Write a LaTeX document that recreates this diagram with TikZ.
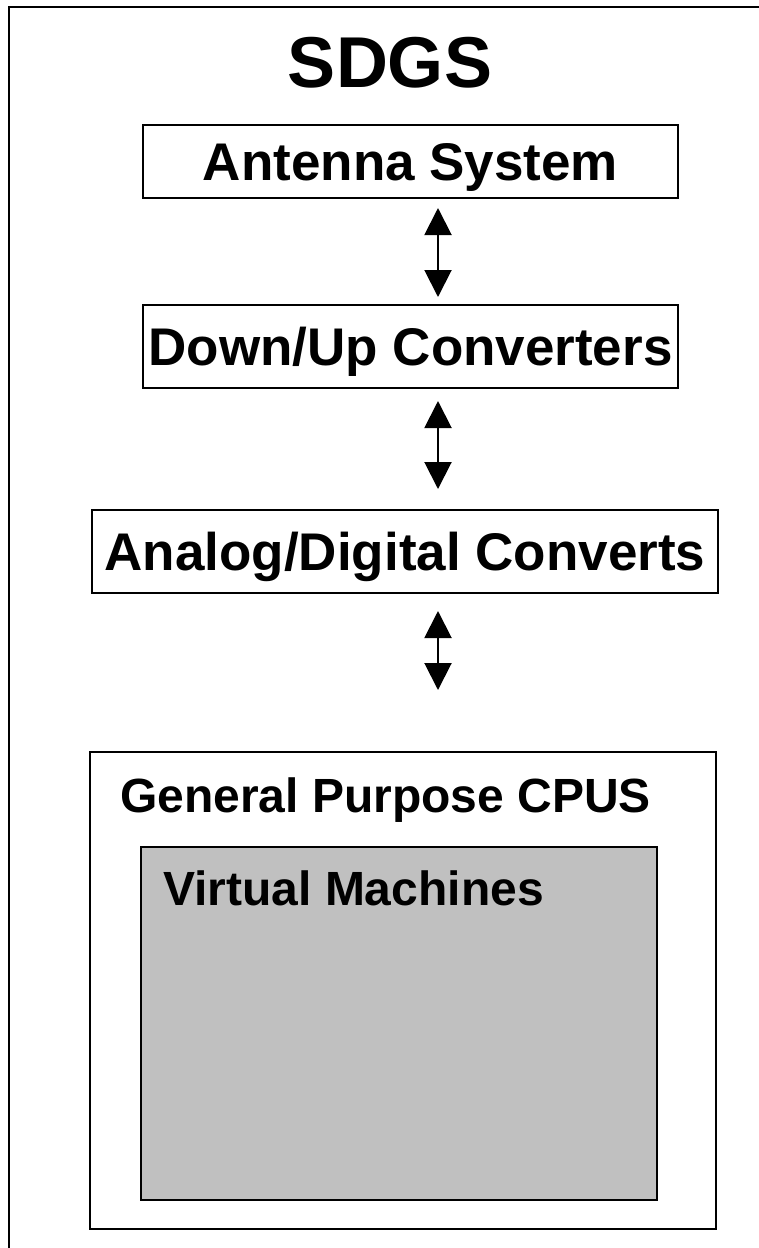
\documentclass[tikz,border=0pt]{standalone}
\usepackage{fontspec}
\setmainfont{Liberation Sans}
\usetikzlibrary{arrows.meta}
\definecolor{vmgray}{HTML}{C0C0C0}
\tikzset{
  stagebox/.style={draw=black, line width=2pt, fill=white, inner sep=0pt,
    font=\bfseries\fontsize{53}{60}\selectfont, text height=38pt, text depth=0pt},
  biarrow/.style={line width=2pt, {Triangle[width=27pt,length=27pt]}-{Triangle[width=27pt,length=27pt]}},
  bigtitle/.style={font=\bfseries\fontsize{72}{80}\selectfont, inner sep=0pt, anchor=base},
  boxlabel/.style={font=\bfseries\fontsize{48}{56}\selectfont, inner sep=0pt, anchor=base west}
}
\begin{document}
\begin{tikzpicture}[x=1pt,y=-1pt]
  \useasboundingbox (0,0) rectangle (759,1248);
  \clip (0,0) rectangle (759,1248);
  \fill[white] (0,0) rectangle (759,1248);

  % outer frame, running past the right and bottom edges
  \draw[line width=2pt] (9,7) rectangle (790,1290);

  % title
  \node[bigtitle] (title) at (390,87) {SDGS};

  % signal chain
  \node[stagebox, minimum width=535pt, minimum height=73pt] (ant) at (410.5,161.5) {Antenna System};
  \node[stagebox, minimum width=535pt, minimum height=83pt] (dup) at (410.5,346.5) {Down/Up Converters};
  \node[stagebox, minimum width=626pt, minimum height=83pt] (adc) at (405,551.5) {Analog/Digital Converts};

  % computing platform
  \node[draw=black, line width=2pt, fill=white, minimum width=626pt, minimum height=477pt, inner sep=0pt] (cpu) at (403,990.5) {};
  \node[boxlabel] (cpulabel) at (120,812) {General Purpose CPUS};
  \node[draw=black, line width=2pt, fill=vmgray, minimum width=516pt, minimum height=353pt, inner sep=0pt] (vm) at (399,1023.5) {};
  \node[boxlabel] (vmlabel) at (163,905) {Virtual Machines};

  % bidirectional links
  \coordinate (ax) at (438,0);
  \coordinate (adcend) at (438,690);
  \draw[biarrow, shorten <=9pt, shorten >=7pt] (ant.south -| ax) -- (dup.north -| ax);
  \draw[biarrow, shorten <=12pt, shorten >=20pt] (dup.south -| ax) -- (adc.north -| ax);
  \draw[biarrow, shorten <=17pt] (adc.south -| ax) -- (adcend);
\end{tikzpicture}
\end{document}
